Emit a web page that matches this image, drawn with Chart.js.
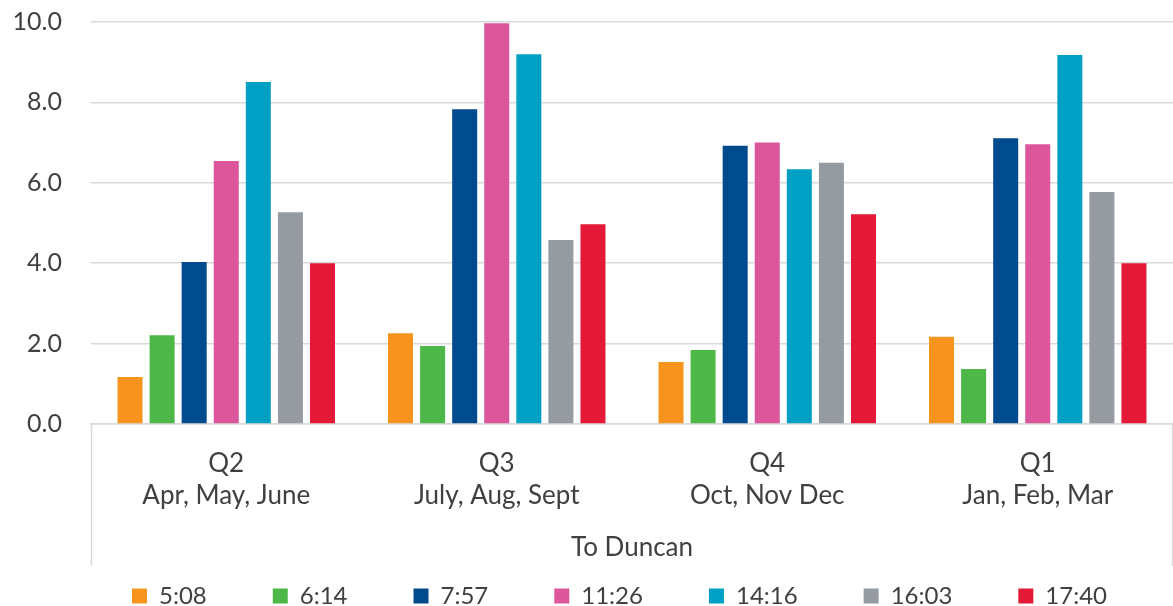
<!DOCTYPE html>
<html>
<head>
<meta charset="utf-8">
<script src="https://cdn.jsdelivr.net/npm/chart.js@4/dist/chart.umd.min.js"></script>
<style>
  html, body { margin: 0; padding: 0; background: #fff; }
  #wrap { width: 1173px; height: 606px; position: relative; }
</style>
</head>
<body>
<div id="wrap"><canvas id="chart"></canvas></div>
<script>
const categories = [
  ['Q2', 'Apr, May, June'],
  ['Q3', 'July, Aug, Sept'],
  ['Q4', 'Oct, Nov Dec'],
  ['Q1', 'Jan, Feb, Mar']
];
const seriesNames = ['5:08', '6:14', '7:57', '11:26', '14:16', '16:03', '17:40'];
const seriesColors = ['#F7941D', '#4DB748', '#004B8D', '#DC569C', '#00A0C4', '#959BA1', '#E31937'];

const v0508 = [1.17, 2.26, 1.54, 2.17];
const v0614 = [2.21, 1.94, 1.84, 1.37];
const v0757 = [4.03, 7.83, 6.92, 7.11];
const v1126 = [6.54, 9.97, 7.00, 6.96];
const v1416 = [8.51, 9.20, 6.34, 9.18];
const v1603 = [5.27, 4.58, 6.50, 5.77];
const v1740 = [4.00, 4.97, 5.22, 4.00];
const seriesValues = [v0508, v0614, v0757, v1126, v1416, v1603, v1740];

const groupTitle = 'To Duncan';
const yTicks = [0, 2, 4, 6, 8, 10];

const textColor = '#404040';
const gridColor = '#d9d9d9';
const fontFamily = 'Lato, "Open Sans", sans-serif';

// the two vertical edges of the category axis, reaching down past the group title
const axisSeparators = {
  id: 'axisSeparators',
  afterDraw(chart) {
    const { ctx, chartArea } = chart;
    ctx.save();
    ctx.strokeStyle = gridColor;
    ctx.lineWidth = 1.5;
    [chartArea.left + 0.5, chartArea.right - 0.5].forEach(px => {
      ctx.beginPath();
      ctx.moveTo(px, chartArea.bottom);
      ctx.lineTo(px, chartArea.bottom + 142);
      ctx.stroke();
    });
    ctx.restore();
  }
};

new Chart(document.getElementById('chart'), {
  type: 'bar',
  data: {
    labels: categories,
    datasets: seriesNames.map((name, i) => ({
      label: name,
      data: seriesValues[i],
      backgroundColor: seriesColors[i],
      borderWidth: 0,
      barPercentage: 0.78,
      categoryPercentage: 0.83
    }))
  },
  options: {
    responsive: true,
    maintainAspectRatio: false,
    animation: false,
    layout: { padding: { top: 22, right: 0, bottom: -12, left: 0 } },
    scales: {
      x: {
        grid: { display: false, drawTicks: false },
        border: { display: true, color: gridColor, width: 1.5 },
        ticks: {
          color: textColor,
          padding: 24,
          maxRotation: 0,
          font: { family: fontFamily, size: 26, lineHeight: 1.23 }
        },
        title: {
          display: true,
          text: groupTitle,
          color: textColor,
          font: { family: fontFamily, size: 26 },
          padding: { top: 0, bottom: -45 }
        },
        afterFit(scale) { scale.height = 94; }
      },
      y: {
        min: 0,
        max: 10,
        afterBuildTicks(scale) { scale.ticks = yTicks.map(v => ({ value: v })); },
        grid: { color: gridColor, lineWidth: 1.5, drawTicks: true, tickLength: 26, tickColor: 'transparent' },
        border: { display: false },
        ticks: {
          color: textColor,
          padding: 3,
          font: { family: fontFamily, size: 25 },
          callback: v => Number(v).toFixed(1)
        },
        afterFit(scale) { scale.width = 91; }
      }
    },
    plugins: {
      legend: {
        position: 'bottom',
        align: 'end',
        labels: {
          color: textColor,
          boxWidth: 15,
          boxHeight: 15,
          padding: 66,
          font: { family: fontFamily, size: 24 }
        }
      },
      tooltip: { enabled: false }
    }
  },
  plugins: [axisSeparators]
});
</script>
</body>
</html>
